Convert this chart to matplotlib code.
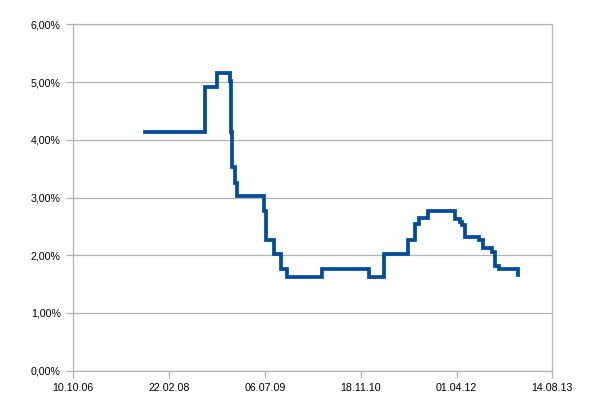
import pandas as pd
import matplotlib
matplotlib.use('Agg')
import matplotlib.pyplot as plt
import matplotlib.dates as mdates
from matplotlib.ticker import FuncFormatter

# change dates of the rate and the level from that date on (in %)
dates = ['2007-10-19', '2008-08-27', '2008-10-30', '2009-01-05', '2009-01-08',
         '2009-01-15', '2009-01-31', '2009-02-09', '2009-07-03', '2009-07-10',
         '2009-08-22', '2009-09-26', '2009-10-31', '2010-04-28', '2010-12-31',
         '2011-03-19', '2011-07-23', '2011-08-28', '2011-09-20', '2011-11-06',
         '2012-03-24', '2012-04-19', '2012-05-01', '2012-05-17', '2012-07-27',
         '2012-08-19', '2012-10-02', '2012-10-19', '2012-11-10', '2013-02-17']
rates = [4.14, 4.91, 5.16, 5.01, 4.14,
         3.53, 3.26, 3.02, 2.77, 2.27,
         2.02, 1.76, 1.63, 1.77, 1.63,
         2.02, 2.27, 2.54, 2.64, 2.76,
         2.62, 2.57, 2.53, 2.31, 2.27,
         2.13, 2.05, 1.81, 1.77, 1.66]

axis_start = pd.Timestamp('2006-10-10')
tick_step = 500  # days between x ticks
n_ticks = 6

grid_col = '#b3b3b3'

fig = plt.figure(figsize=(6.05, 4.08), dpi=100)
ax = fig.add_axes([0.1212, 0.0914, 0.7917, 0.849])

ax.step(pd.to_datetime(dates), rates, where='post', color='#004c99', lw=2.7,
        solid_joinstyle='miter', zorder=3)

xticks = [axis_start + pd.Timedelta(days=tick_step * i) for i in range(n_ticks)]
ax.set_xlim(xticks[0], xticks[-1])
ax.set_xticks(xticks)
ax.xaxis.set_major_formatter(mdates.DateFormatter('%d.%m.%y'))

ax.set_ylim(0, 6)
ax.set_yticks(range(0, 7))
ax.yaxis.set_major_formatter(FuncFormatter(lambda v, p: ('%.2f%%' % v).replace('.', ',')))

ax.grid(axis='y', color=grid_col, lw=0.9)
ax.set_axisbelow(True)
for s in ax.spines.values():
    s.set_color(grid_col)
    s.set_linewidth(0.9)

ax.tick_params(axis='both', colors=grid_col, length=5, width=0.9,
               labelcolor='black', labelsize=7.7)
ax.tick_params(axis='y', pad=4)
ax.tick_params(axis='x', pad=4)
for lab in ax.get_xticklabels() + ax.get_yticklabels():
    lab.set_family('Liberation Sans')

fig.savefig('out.png', dpi=100)
